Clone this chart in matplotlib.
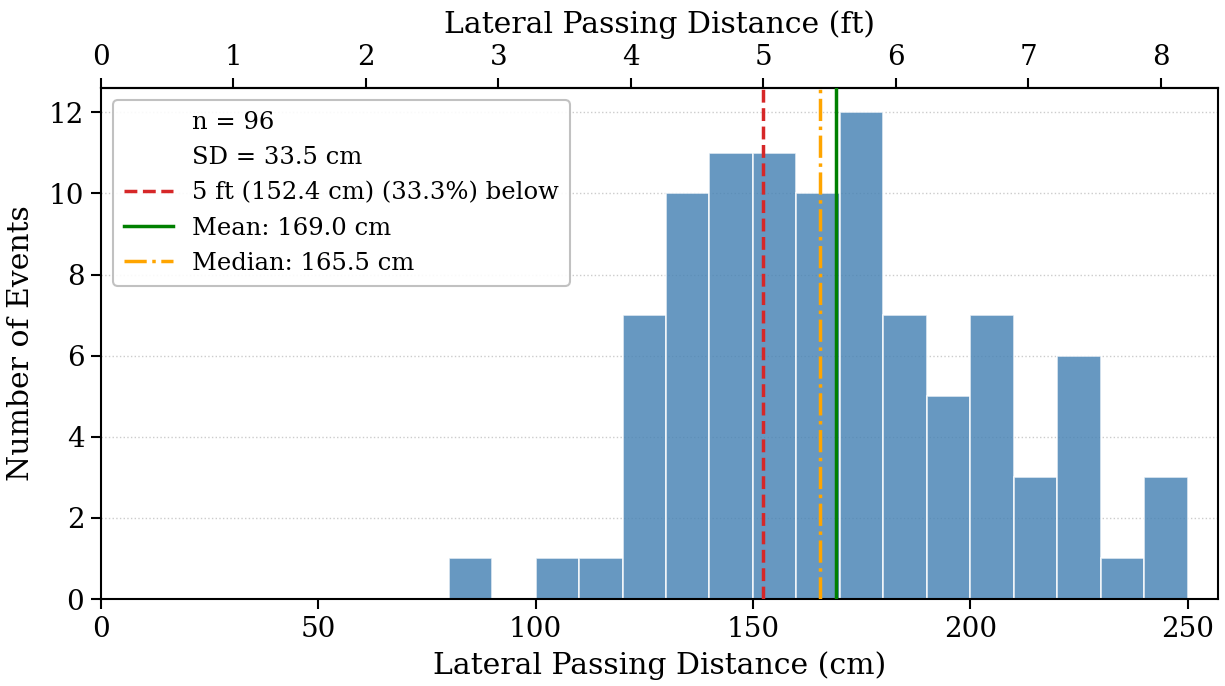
import numpy as np
import matplotlib
matplotlib.use('Agg')
import matplotlib.pyplot as plt

plt.rcParams['font.family'] = 'DejaVu Serif'

# histogram bins (cm) and counts
bin_edges = [80, 90, 100, 110, 120, 130, 140, 150, 160, 170, 180,
             190, 200, 210, 220, 230, 240, 250]
counts = [1, 0, 1, 1, 7, 10, 11, 11, 10, 12, 7, 5, 7, 3, 6, 1, 3]

n_events = 96
sd_cm = 33.5
threshold_cm = 152.4
pct_below = 33.3
mean_cm = 169.0
median_cm = 165.5

fig = plt.figure(figsize=(12.25, 6.86), dpi=100)
ax = fig.add_axes([101/1225, 1 - 599/686, (1218 - 101)/1225, (599 - 88)/686])

ax.bar(bin_edges[:-1], counts, width=np.diff(bin_edges), align='edge',
       color='steelblue', alpha=0.82, edgecolor='white', linewidth=1.2, zorder=2)

ax.plot([], [], ' ', label='n = %d' % n_events)
ax.plot([], [], ' ', label='SD = %.1f cm' % sd_cm)
ax.axvline(threshold_cm, color='#d62728', linestyle='--', linewidth=2.5, zorder=3,
           label='5 ft (%.1f cm) (%.1f%%) below' % (threshold_cm, pct_below))
ax.axvline(mean_cm, color='green', linestyle='-', linewidth=2.5, zorder=3,
           label='Mean: %.1f cm' % mean_cm)
ax.axvline(median_cm, color='orange', linestyle='-.', linewidth=2.5, zorder=3,
           label='Median: %.1f cm' % median_cm)

ax.set_xlim(0, 257)
ax.set_ylim(0, 12.6)
ax.set_yticks(range(0, 13, 2))
ax.yaxis.grid(True, linestyle=':', color='#cccccc', linewidth=1, zorder=0)
ax.set_axisbelow(True)

ax.set_xlabel('Lateral Passing Distance (cm)', fontsize=21.5, labelpad=6)
ax.set_ylabel('Number of Events', fontsize=21.5, labelpad=10)
ax.tick_params(labelsize=20, width=1.5, length=7, pad=5)
for s in ax.spines.values():
    s.set_linewidth(1.5)

top = ax.secondary_xaxis('top', functions=(lambda x: x / 30.48, lambda f: f * 30.48))
top.set_xticks(range(0, 9))
top.set_xlabel('Lateral Passing Distance (ft)', fontsize=21.5, labelpad=8)
top.tick_params(labelsize=20, width=1.5, length=7, pad=5)
top.spines['top'].set_linewidth(1.5)

leg = ax.legend(loc='upper left', fontsize=17.5, framealpha=0.9, edgecolor='#bbbbbb',
                handlelength=2.0, borderpad=0.45, labelspacing=0.5)
leg.get_frame().set_linewidth(1.5)

fig.savefig('out.png', dpi=100)
